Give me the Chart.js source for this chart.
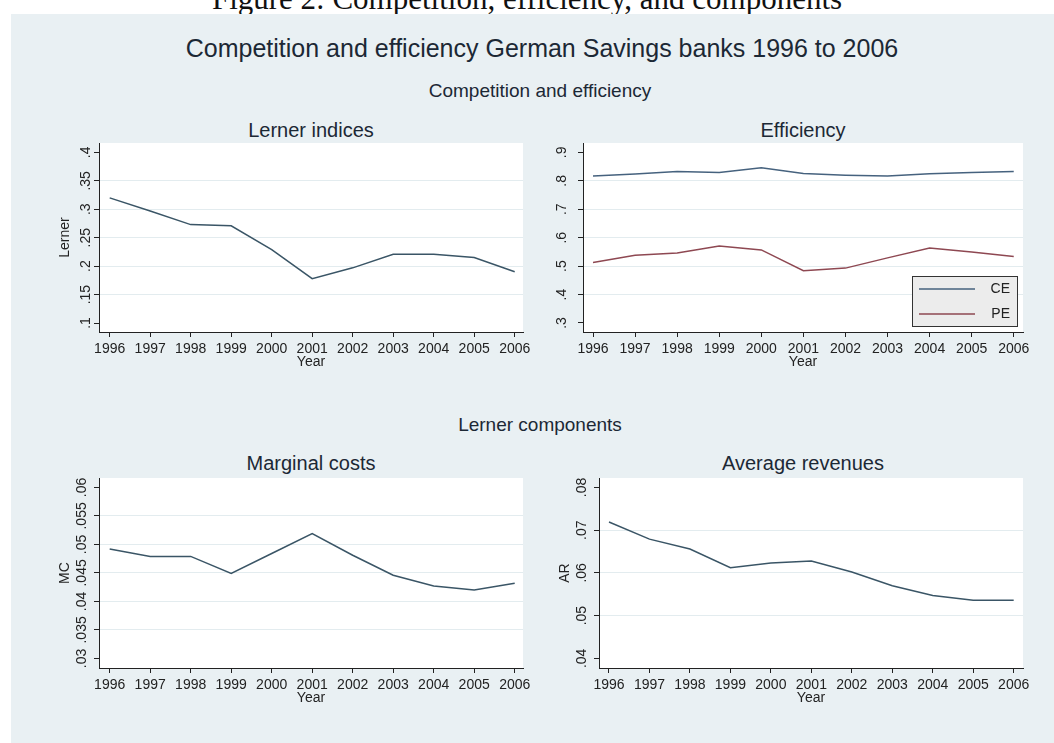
<!DOCTYPE html>
<html>
<head>
<meta charset="utf-8">
<title>Competition and efficiency German Savings banks 1996 to 2006</title>
<script src="https://cdn.jsdelivr.net/npm/chart.js@4.4.1/dist/chart.umd.min.js"></script>
<style>
  body { margin: 0; width: 1054px; height: 743px; background: #fff; position: relative; overflow: hidden;
         font-family: "Liberation Sans", Arial, sans-serif; }
  #caption { position: absolute; left: 0; width: 1054px; top: -16px; text-align: center;
             font-family: "Liberation Serif", serif; font-size: 31px; line-height: 30px; color: #111; }
  #panel { position: absolute; left: 11px; top: 14px; right: 0; bottom: 0; background: #e9f0f3; }
  .t { position: absolute; transform: translate(-50%, -50%); white-space: nowrap; color: #1c2835; line-height: 1; }
  .big { font-size: 25px; }
  .mid { font-size: 19px; }
  .sub { font-size: 20px; }
  canvas { position: absolute; }
</style>
</head>
<body>
<div id="caption">Figure 2: Competition, efficiency, and components</div>
<div id="panel"></div>

<div class="t big" style="left:542px; top:48px;">Competition and efficiency German Savings banks 1996 to 2006</div>
<div class="t mid" style="left:540px; top:90px;">Competition and efficiency</div>
<div class="t sub" style="left:311px; top:130px;">Lerner indices</div>
<div class="t sub" style="left:803px; top:130px;">Efficiency</div>
<div class="t mid" style="left:540px; top:424px;">Lerner components</div>
<div class="t sub" style="left:311px; top:463px;">Marginal costs</div>
<div class="t sub" style="left:803px; top:463px;">Average revenues</div>

<canvas id="lernerChart" width="485" height="226" style="left:50px; top:143px;"></canvas>
<canvas id="effChart" width="495" height="226" style="left:540px; top:143px;"></canvas>
<canvas id="mcChart" width="485" height="227" style="left:50px; top:478px;"></canvas>
<canvas id="arChart" width="485" height="227" style="left:550px; top:478px;"></canvas>

<script>
// Data
const years = [1996, 1997, 1998, 1999, 2000, 2001, 2002, 2003, 2004, 2005, 2006];
const lerner = [0.320, 0.297, 0.273, 0.271, 0.229, 0.178, 0.197, 0.221, 0.221, 0.215, 0.190];
const ce = [0.817, 0.824, 0.833, 0.829, 0.846, 0.826, 0.820, 0.817, 0.825, 0.829, 0.833];
const pe = [0.513, 0.538, 0.546, 0.571, 0.557, 0.484, 0.493, 0.529, 0.564, 0.550, 0.534];
const mc = [0.0492, 0.0479, 0.0479, 0.0449, 0.0484, 0.0519, 0.0481, 0.0446, 0.0427, 0.0420, 0.0432];
const ar = [0.0719, 0.0679, 0.0656, 0.0612, 0.0623, 0.0628, 0.0602, 0.0570, 0.0547, 0.0536, 0.0536];

// y axis tick labels
const lernerTicks = [0.1, 0.15, 0.2, 0.25, 0.3, 0.35, 0.4];
const effTicks = [0.3, 0.4, 0.5, 0.6, 0.7, 0.8, 0.9];
const mcTicks = [0.03, 0.035, 0.04, 0.045, 0.05, 0.055, 0.06];
const arTicks = [0.04, 0.05, 0.06, 0.07, 0.08];

Chart.defaults.font.family = '"Liberation Sans", Arial, sans-serif';
Chart.defaults.animation = false;

const navy = '#3a5566';
const ceColor = '#46627e';
const peColor = '#8e4852';
const inkColor = '#222';

// Stata style labels: .35 instead of 0.35
function stataNum(v) {
    return String(v).replace(/^0\./, '.');
}

function points(vals) {
    return years.map((x, i) => ({ x: x, y: vals[i] }));
}

// white plot region
const plotBackground = {
    id: 'plotBackground',
    beforeDraw(chart) {
        const { ctx, chartArea } = chart;
        ctx.save();
        ctx.fillStyle = '#fff';
        ctx.fillRect(chartArea.left, chartArea.top, chartArea.right - chartArea.left, chartArea.bottom - chartArea.top);
        ctx.restore();
    }
};

// y tick labels turned on their side, like the original
const rotatedYLabels = {
    id: 'rotatedYLabels',
    afterDraw(chart, args, opts) {
        const scale = chart.scales.y;
        const ctx = chart.ctx;
        ctx.save();
        ctx.font = '14px "Liberation Sans", Arial, sans-serif';
        ctx.fillStyle = inkColor;
        ctx.textAlign = 'center';
        ctx.textBaseline = 'middle';
        scale.ticks.forEach(function (t) {
            ctx.save();
            ctx.translate(chart.chartArea.left - opts.gap, scale.getPixelForValue(t.value));
            ctx.rotate(-Math.PI / 2);
            ctx.fillText(stataNum(t.value), 0, 0);
            ctx.restore();
        });
        ctx.restore();
    }
};

// legend box inside the efficiency plot
const insideLegend = {
    id: 'insideLegend',
    afterDatasetsDraw(chart) {
        const { ctx, chartArea } = chart;
        const w = 106, h = 51;
        const x = chartArea.right - 5 - w;
        const y = chartArea.bottom - 5 - h;
        ctx.save();
        ctx.fillStyle = '#ececec';
        ctx.fillRect(x, y, w, h);
        ctx.strokeStyle = '#333';
        ctx.lineWidth = 1;
        ctx.strokeRect(x + 0.5, y + 0.5, w - 1, h - 1);
        ctx.font = '14px "Liberation Sans", Arial, sans-serif';
        ctx.textAlign = 'right';
        ctx.textBaseline = 'middle';
        chart.data.datasets.forEach(function (ds, i) {
            const ly = y + 13 + i * 25;
            ctx.strokeStyle = ds.borderColor;
            ctx.lineWidth = 1.4;
            ctx.beginPath();
            ctx.moveTo(x + 7, ly);
            ctx.lineTo(x + 63, ly);
            ctx.stroke();
            ctx.fillStyle = inkColor;
            ctx.fillText(ds.label, x + w - 8, ly);
        });
        ctx.restore();
    }
};

function makeChart(id, datasets, o) {
    const n = o.yTicks.length;
    return new Chart(document.getElementById(id), {
        type: 'line',
        data: { datasets: datasets },
        options: {
            responsive: false,
            animation: false,
            layout: { padding: { right: 12 } },
            elements: { point: { radius: 0 }, line: { tension: 0, borderWidth: 1.5 } },
            plugins: {
                legend: { display: false },
                tooltip: { enabled: false },
                rotatedYLabels: { gap: o.gap }
            },
            scales: {
                x: {
                    type: 'linear',
                    min: o.xMin,
                    max: o.xMax,
                    afterBuildTicks: function (s) { s.ticks = years.map(v => ({ value: v })); },
                    afterFit: function (s) { s.height = 37; },
                    ticks: {
                        autoSkip: false, maxRotation: 0, minRotation: 0, padding: 4,
                        color: inkColor, font: { size: 14 },
                        callback: v => String(v)
                    },
                    grid: { drawOnChartArea: false, tickLength: 5, tickColor: inkColor },
                    border: { color: inkColor, width: 1 },
                    title: { display: true, text: 'Year', color: inkColor, font: { size: 14, lineHeight: 1 }, padding: 0 }
                },
                y: {
                    min: o.yMin,
                    max: o.yMax,
                    afterBuildTicks: function (s) { s.ticks = o.yTicks.map(v => ({ value: v })); },
                    afterFit: function (s) { s.width = o.yWidth; },
                    ticks: { display: false },
                    grid: {
                        tickLength: 5,
                        tickColor: inkColor,
                        color: c => (c.index === 0 || c.index === n - 1) ? 'rgba(0,0,0,0)' : '#e3ecef'
                    },
                    border: { color: inkColor, width: 1 },
                    title: {
                        display: !!o.yTitle, text: o.yTitle || '', color: inkColor,
                        font: { size: 14, lineHeight: 1 }, padding: { top: 8, bottom: 0 }
                    }
                }
            }
        },
        plugins: [plotBackground, rotatedYLabels].concat(o.extra || [])
    });
}

// Lerner indices
makeChart('lernerChart', [
    { label: 'Lerner', data: points(lerner), borderColor: navy }
], { xMin: 1995.736, xMax: 2006.205, yMin: 0.0842, yMax: 0.4165, yTicks: lernerTicks, yTitle: 'Lerner', yWidth: 49, gap: 12.5 });

// Efficiency
makeChart('effChart', [
    { label: 'CE', data: points(ce), borderColor: ceColor },
    { label: 'PE', data: points(pe), borderColor: peColor }
], { xMin: 1995.762, xMax: 2006.22, yMin: 0.2683, yMax: 0.933, yTicks: effTicks, yWidth: 43, gap: 21, extra: [insideLegend] });

// Marginal costs
makeChart('mcChart', [
    { label: 'MC', data: points(mc), borderColor: navy }
], { xMin: 1995.736, xMax: 2006.205, yMin: 0.02832, yMax: 0.06165, yTicks: mcTicks, yTitle: 'MC', yWidth: 49, gap: 16.5 });

// Average revenues
makeChart('arChart', [
    { label: 'AR', data: points(ar), borderColor: navy }
], { xMin: 1995.753, xMax: 2006.23, yMin: 0.03775, yMax: 0.0822, yTicks: arTicks, yTitle: 'AR', yWidth: 49, gap: 16.5 });
</script>
</body>
</html>
